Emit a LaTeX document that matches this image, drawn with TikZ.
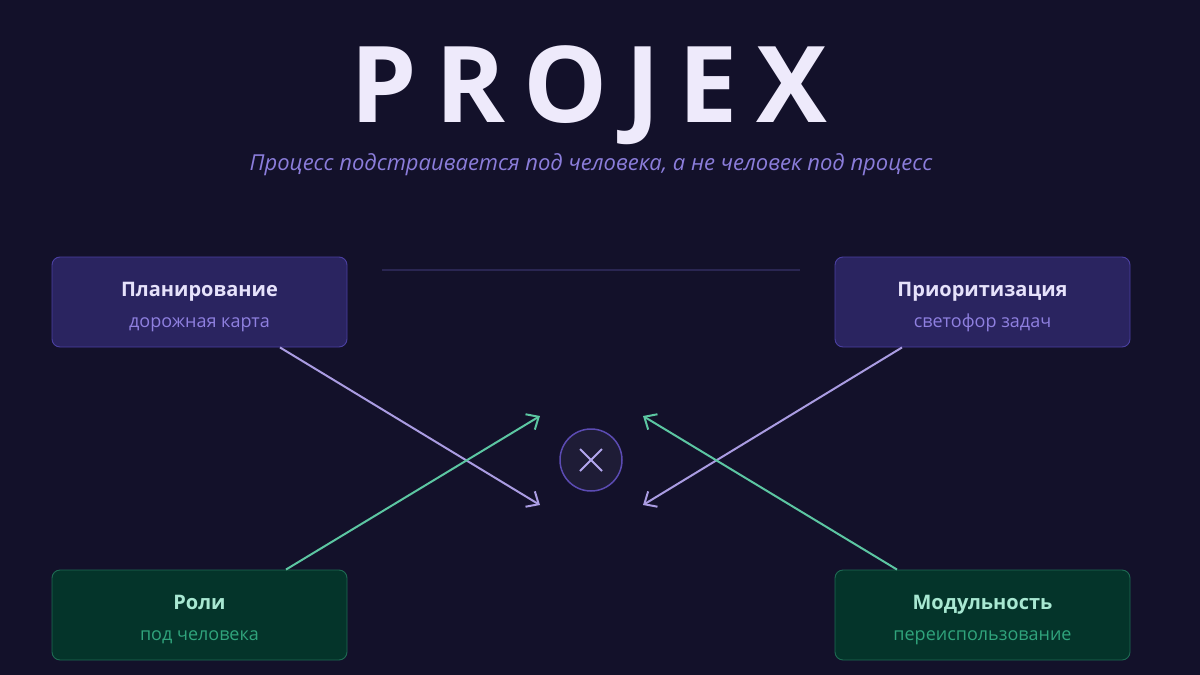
\documentclass[tikz,border=0pt]{standalone}
\usepackage{fontspec}
\setmainfont{Open Sans}
\usetikzlibrary{arrows.meta}
\definecolor{bg}{HTML}{13112A}
\definecolor{titlec}{HTML}{EEEAFB}
\definecolor{subc}{HTML}{8B7DDB}
\definecolor{pfill}{HTML}{2A2460}
\definecolor{pdraw}{HTML}{4B40A2}
\definecolor{ptext}{HTML}{E6E2FB}
\definecolor{psub}{HTML}{8F80E0}
\definecolor{gfill}{HTML}{04342A}
\definecolor{gdraw}{HTML}{1E6A52}
\definecolor{gtext}{HTML}{A8E8D2}
\definecolor{gsub}{HTML}{30A47C}
\definecolor{parrow}{HTML}{AA9CE2}
\definecolor{garrow}{HTML}{5CC6A2}
\definecolor{cfill}{HTML}{1E1C36}
\definecolor{cdraw}{HTML}{5B4BB2}
\definecolor{xcol}{HTML}{B2A6EE}
\definecolor{rule}{HTML}{2A2652}
\tikzset{
  card/.style={rounded corners=8pt, line width=0.9pt, minimum width=295pt, minimum height=90pt, inner sep=0pt},
  pcard/.style={card, fill=pfill, draw=pdraw},
  gcard/.style={card, fill=gfill, draw=gdraw},
  ctitle/.style={font=\fontsize{20}{24}\selectfont\bfseries},
  csub/.style={font=\fontsize{18}{22}\selectfont},
  parr/.style={draw=parrow, line width=2pt, -{Straight Barb[length=10pt,width=18pt,line width=2pt]}},
  garr/.style={draw=garrow, line width=2pt, -{Straight Barb[length=10pt,width=18pt,line width=2pt]}},
}
\begin{document}
\begin{tikzpicture}[x=1pt,y=-1pt]
\fill[bg] (0,0) rectangle (1200,675);
\useasboundingbox (0,0) rectangle (1200,675);
\node[text=titlec, font=\fontsize{106}{116}\selectfont\bfseries, anchor=base] (title) at (589,122) {P\kern18pt R\kern18pt O\kern18pt J\kern18pt E\kern18pt X};
\node[text=subc, font=\fontsize{22}{26}\selectfont\itshape, anchor=base] (sub) at (591,170) {Процесс подстраивается под человека, а не человек под процесс};
\coordinate (r1) at (382,270);
\coordinate (r2) at (800,270);
\draw[rule, line width=1.5pt] (r1) -- (r2);

\node[pcard] (plan) at (199.5,302) {};
\node[ctitle, text=ptext, anchor=base] at (199.5,296) {Планирование};
\node[csub, text=psub, anchor=base] at (199.5,327) {дорожная карта};

\node[pcard] (prio) at (982.5,302) {};
\node[ctitle, text=ptext, anchor=base] at (982.5,296) {Приоритизация};
\node[csub, text=psub, anchor=base] at (982.5,327) {светофор задач};

\node[gcard] (roles) at (199.5,615) {};
\node[ctitle, text=gtext, anchor=base] at (199.5,609) {Роли};
\node[csub, text=gsub, anchor=base] at (199.5,640) {под человека};

\node[gcard] (mod) at (982.5,615) {};
\node[ctitle, text=gtext, anchor=base] at (982.5,609) {Модульность};
\node[csub, text=gsub, anchor=base] at (982.5,640) {переиспользование};

\node[circle, minimum size=62pt, inner sep=0pt, fill=cfill, draw=cdraw, line width=1.5pt] (hub) at (591,460) {};
\draw[xcol, line width=2pt] ([shift={(-11,-11)}]hub.center) -- ([shift={(11,11)}]hub.center);
\draw[xcol, line width=2pt] ([shift={(-11,11)}]hub.center) -- ([shift={(11,-11)}]hub.center);

\coordinate (pe) at (540,505);
\coordinate (re) at (540,416);
\coordinate (qe) at (643,505);
\coordinate (me) at (643,416);
\draw[parr] (plan.south -| 280,0) -- (pe);
\draw[parr] (prio.south -| 902,0) -- (qe);
\draw[garr] (roles.north -| 286,0) -- (re);
\draw[garr] (mod.north -| 897,0) -- (me);
\end{tikzpicture}
\end{document}
